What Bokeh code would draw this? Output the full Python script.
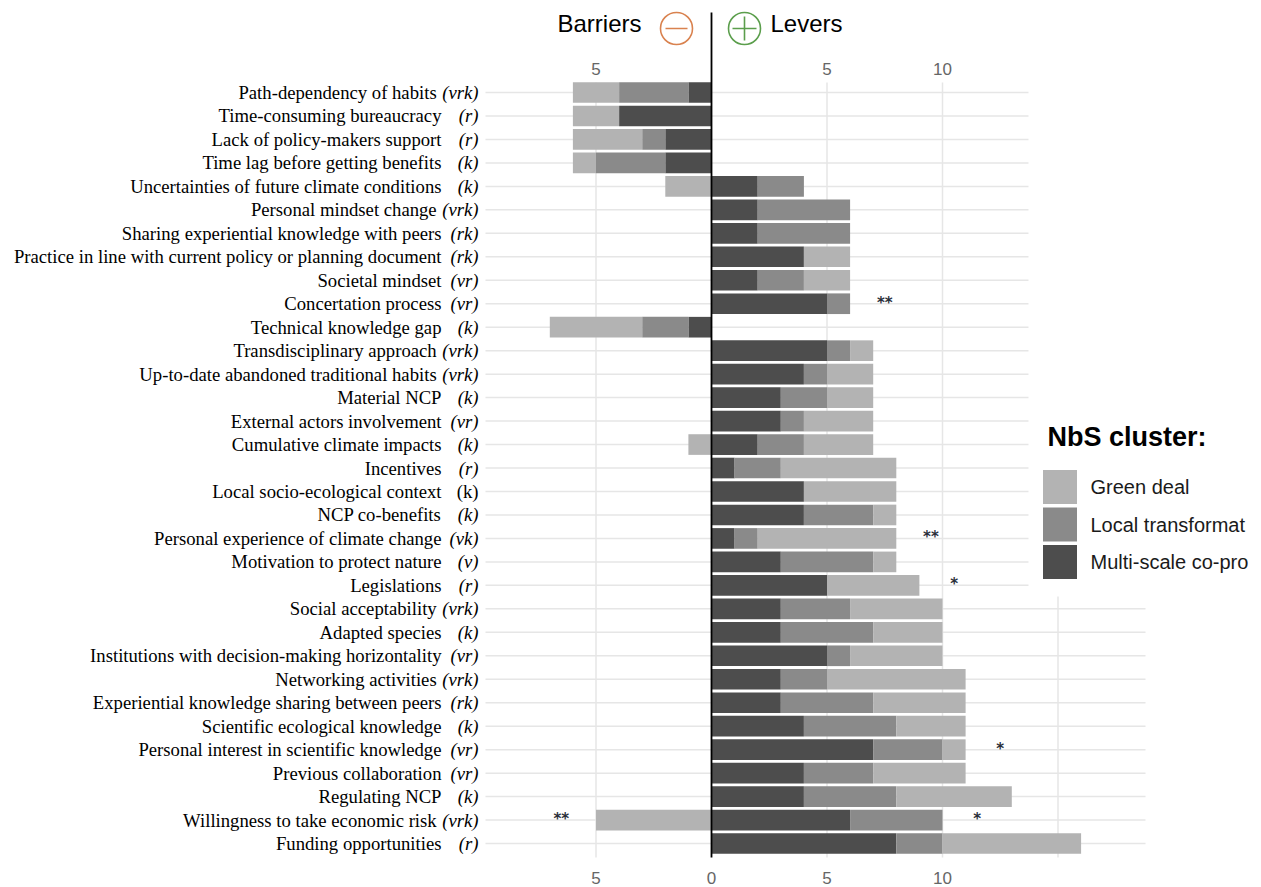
from bokeh.plotting import figure
from bokeh.models import Range1d, ColumnDataSource
from bokeh.core.properties import value
from bokeh.embed import file_html
from bokeh.resources import INLINE

# ---------------- data ----------------
factors = [
    "Path-dependency of habits",
    "Time-consuming bureaucracy",
    "Lack of policy-makers support",
    "Time lag before getting benefits",
    "Uncertainties of future climate conditions",
    "Personal mindset change",
    "Sharing experiential knowledge with peers",
    "Practice in line with current policy or planning document",
    "Societal mindset",
    "Concertation process",
    "Technical knowledge gap",
    "Transdisciplinary approach",
    "Up-to-date abandoned traditional habits",
    "Material NCP",
    "External actors involvement",
    "Cumulative climate impacts",
    "Incentives",
    "Local socio-ecological context",
    "NCP co-benefits",
    "Personal experience of climate change",
    "Motivation to protect nature",
    "Legislations",
    "Social acceptability",
    "Adapted species",
    "Institutions with decision-making horizontality",
    "Networking activities",
    "Experiential knowledge sharing between peers",
    "Scientific ecological knowledge",
    "Personal interest in scientific knowledge",
    "Previous collaboration",
    "Regulating NCP",
    "Willingness to take economic risk",
    "Funding opportunities",
]
codes = ["vrk", "r", "r", "k", "k", "vrk", "rk", "rk", "vr", "vr", "k", "vrk", "vrk", "k", "vr", "k",
         "r", "k", "k", "vk", "v", "r", "vrk", "k", "vr", "vrk", "rk", "k", "vr", "vr", "k", "vrk", "r"]
upright_codes = ["Local socio-ecological context"]

barrier_dark  = [1, 4, 2, 2, 0, 0, 0, 0, 0, 0, 1, 0, 0, 0, 0, 0, 0, 0, 0, 0, 0, 0, 0, 0, 0, 0, 0, 0, 0, 0, 0, 0, 0]
barrier_mid   = [3, 0, 1, 3, 0, 0, 0, 0, 0, 0, 2, 0, 0, 0, 0, 0, 0, 0, 0, 0, 0, 0, 0, 0, 0, 0, 0, 0, 0, 0, 0, 0, 0]
barrier_light = [2, 2, 3, 1, 2, 0, 0, 0, 0, 0, 4, 0, 0, 0, 0, 1, 0, 0, 0, 0, 0, 0, 0, 0, 0, 0, 0, 0, 0, 0, 0, 5, 0]

lever_dark  = [0, 0, 0, 0, 2, 2, 2, 4, 2, 5, 0, 5, 4, 3, 3, 2, 1, 4, 4, 1, 3, 5, 3, 3, 5, 3, 3, 4, 7, 4, 4, 6, 8]
lever_mid   = [0, 0, 0, 0, 2, 4, 4, 0, 2, 1, 0, 1, 1, 2, 1, 2, 2, 0, 3, 1, 4, 0, 3, 4, 1, 2, 4, 4, 3, 3, 4, 4, 2]
lever_light = [0, 0, 0, 0, 0, 0, 0, 2, 2, 0, 0, 1, 2, 2, 3, 3, 5, 4, 1, 6, 1, 4, 4, 3, 4, 6, 4, 3, 1, 4, 5, 0, 6]

lever_sig   = ["", "", "", "", "", "", "", "", "", "**", "", "", "", "", "", "", "", "", "", "**", "", "*",
               "", "", "", "", "", "", "*", "", "", "*", ""]
barrier_sig = ["", "", "", "", "", "", "", "", "", "", "", "", "", "", "", "", "", "", "", "", "", "",
               "", "", "", "", "", "", "", "", "", "**", ""]

cluster_names  = ["Green deal", "Local transformat", "Multi-scale co-pro"]
cluster_colors = ["#b3b3b3", "#8a8a8a", "#4d4d4d"]

top_ticks = [-5, 5, 10]
top_tick_labels = ["5", "5", "10"]
bottom_ticks = [-5, 0, 5, 10]
bottom_tick_labels = ["5", "0", "5", "10"]
grid_x = [-5, 5, 10, 15]

# ---------------- layout ----------------
W, H = 1261, 887
X0, PXX = 711.0, 23.1      # canvas x of zero, px per unit
Y0, PXY = 92.0, 23.47      # canvas y of first row, px per row

def dx(px):
    return (px - X0) / PXX

def dy(py):
    return (py - Y0) / PXY

DARK, MID, LIGHT = cluster_colors[2], cluster_colors[1], cluster_colors[0]
SERIF = value("Liberation Serif")
SANS = value("Liberation Sans")

p = figure(width=W, height=H, output_backend="svg", toolbar_location=None,
           x_range=Range1d(dx(0), dx(W)), y_range=Range1d(dy(H), dy(0)),
           x_axis_location=None, y_axis_location=None, min_border=0)
p.grid.visible = False
p.outline_line_color = None

n = len(factors)
ys = list(range(n))

# gridlines
PANEL_L, PANEL_R = dx(485), dx(1145)
PANEL_T, PANEL_B = dy(82), dy(857)
p.segment(x0=[PANEL_L] * n, x1=[PANEL_R] * n, y0=ys, y1=ys, line_color="#e6e6e6", line_width=1.5)
p.segment(x0=grid_x, x1=grid_x, y0=[PANEL_T] * len(grid_x), y1=[PANEL_B] * len(grid_x),
          line_color="#e6e6e6", line_width=1.5)

# white legend area
p.quad(left=[dx(1028)], right=[dx(W)], top=[dy(0)], bottom=[dy(596)], fill_color="white", line_color=None)

# bars
src = ColumnDataSource(dict(
    y=ys,
    ld=lever_dark, lm=lever_mid, ll=lever_light,
    bd=[-v for v in barrier_dark], bm=[-v for v in barrier_mid], bl=[-v for v in barrier_light],
))
p.hbar_stack(["ld", "lm", "ll"], y="y", height=0.88, source=src,
             fill_color=[DARK, MID, LIGHT], line_color=None)
p.hbar_stack(["bd", "bm", "bl"], y="y", height=0.88, source=src,
             fill_color=[DARK, MID, LIGHT], line_color=None)

# zero line
p.segment(x0=[0], x1=[0], y0=[dy(12)], y1=[PANEL_B], line_color="black", line_width=1.8)

# category labels: name (regular) + code (italic)
FS = 18.7
ital = {"(": 333, ")": 333, "v": 444, "r": 389, "k": 444}
code_txt, code_style, name_off = [], [], []
for f, c in zip(factors, codes):
    code_txt.append("(" + c + ")")
    up = f in upright_codes
    code_style.append("normal" if up else "italic")
    w = sum((500 if (up and ch == "k") else ital[ch]) for ch in "(" + c + ")") / 1000.0 * FS
    name_off.append(min(-37.0, -(w + 5.5)))
lab = ColumnDataSource(dict(y=ys, name=factors, code=code_txt, style=code_style, off=name_off))
CODE_X = dx(478)
p.text(x=CODE_X, y="y", text="code", source=lab, text_font=SERIF, text_font_size=f"{FS}px",
       text_font_style=dict(field="style"), text_align="right", text_baseline="middle", text_color="black")
p.text(x=CODE_X, y="y", text="name", x_offset="off", source=lab, text_font=SERIF, text_font_size=f"{FS}px",
       text_align="right", text_baseline="middle", text_color="black")

# significance stars
lev_tot = [a + b + c for a, b, c in zip(lever_dark, lever_mid, lever_light)]
bar_tot = [a + b + c for a, b, c in zip(barrier_dark, barrier_mid, barrier_light)]
sx, sy, st = [], [], []
for i in range(n):
    if lever_sig[i]:
        sx.append(lev_tot[i] + 1.5); sy.append(i); st.append(lever_sig[i])
    if barrier_sig[i]:
        sx.append(-(bar_tot[i] + 1.5)); sy.append(i); st.append(barrier_sig[i])
p.text(x=sx, y=sy, text=st, text_font=value("DejaVu Sans"), text_font_size="15px", text_font_style="bold",
       text_align="center", text_baseline="alphabetic", y_offset=-1, text_color="#2a2f3a")

# tick labels
p.text(x=top_ticks, y=[dy(68)] * len(top_ticks), text=top_tick_labels, text_font=SANS,
       text_font_size="17px", text_align="center", text_baseline="middle", text_color="#666666")
p.text(x=bottom_ticks, y=[dy(877)] * len(bottom_ticks), text=bottom_tick_labels, text_font=SANS,
       text_font_size="17px", text_align="center", text_baseline="middle", text_color="#666666")

# header
p.text(x=[dx(641)], y=[dy(23)], text=["Barriers"], text_font=SANS, text_font_size="24px",
       text_align="right", text_baseline="middle", text_color="black")
p.text(x=[dx(770)], y=[dy(23)], text=["Levers"], text_font=SANS, text_font_size="24px",
       text_align="left", text_baseline="middle", text_color="black")
ORANGE, GREEN = "#d9824f", "#5b9e4c"
p.scatter(x=[dx(676)], y=[dy(28)], marker="circle", size=32, fill_color=None, line_color=ORANGE, line_width=1.6)
p.scatter(x=[dx(676)], y=[dy(28)], marker="dash", size=22, line_color=ORANGE, line_width=1.6)
p.scatter(x=[dx(744)], y=[dy(28)], marker="circle", size=32, fill_color=None, line_color=GREEN, line_width=1.6)
p.scatter(x=[dx(744)], y=[dy(28)], marker="cross", size=24, line_color=GREEN, line_width=1.6)

# legend
p.text(x=[dx(1047)], y=[dy(436)], text=["NbS cluster:"], text_font=SANS, text_font_size="27px",
       text_font_style="bold", text_align="left", text_baseline="middle", text_color="black")
leg_y = [dy(486.5), dy(524), dy(561.5)]
p.scatter(x=[dx(1059.5)] * 3, y=leg_y, marker="square", size=34, fill_color=cluster_colors, line_color=None)
p.text(x=[dx(1090)] * 3, y=leg_y, text=cluster_names, text_font=SANS, text_font_size="20px",
       text_align="left", text_baseline="middle", text_color="#1a1a1a")

open("out.html", "w").write(file_html(p, INLINE))
